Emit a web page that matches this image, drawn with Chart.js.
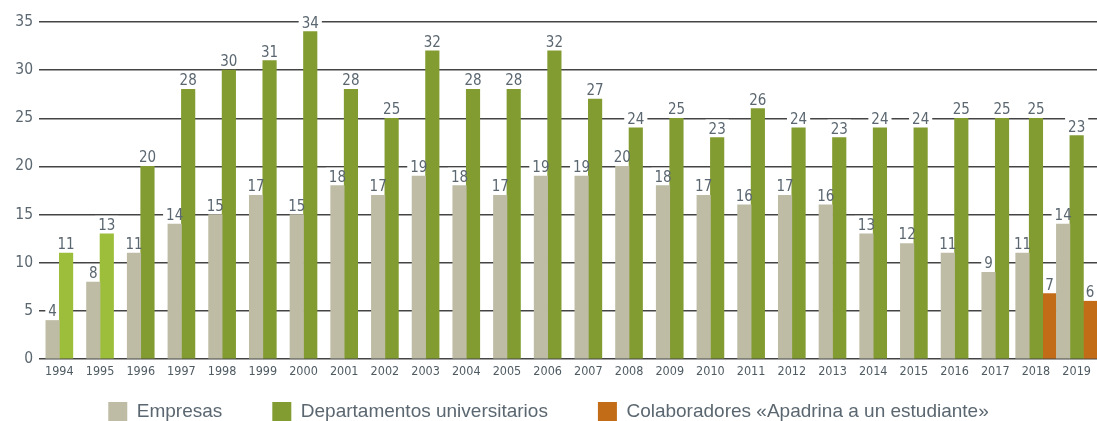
<!DOCTYPE html>
<html>
<head>
<meta charset="utf-8">
<script src="https://cdn.jsdelivr.net/npm/chart.js@4"></script>
<style>
  html, body { margin: 0; padding: 0; background: #fff; overflow: hidden; }
  #wrap { width: 1097px; height: 421px; overflow: hidden; }
  #box { width: 1097px; height: 463px; position: relative; }
</style>
</head>
<body>
<div id="wrap"><div id="box"><canvas id="chart"></canvas></div></div>
<script>
const years = ['1994', '1995', '1996', '1997', '1998', '1999', '2000', '2001', '2002', '2003', '2004', '2005', '2006',
    '2007', '2008', '2009', '2010', '2011', '2012', '2013', '2014', '2015', '2016', '2017', '2018', '2019'];

const empresas = [4, 8, 11, 14, 15, 17, 15, 18, 17, 19, 18, 17, 19, 19, 20, 18, 17, 16, 17, 16, 13, 12, 11, 9, 11, 14];

const departamentos = [11, 13, 20, 28, 30, 31, 34, 28, 25, 32, 28, 28, 32, 27, 24, 25, 23, 26, 24, 23, 24, 24, 25, 25, 25, 23.2];

const colaboradores = [null, null, null, null, null, null, null, null, null, null, null, null, null,
    null, null, null, null, null, null, null, null, null, null, null, 6.8, 6];

const seriesNames = ['Empresas', 'Departamentos universitarios', 'Colaboradores «Apadrina a un estudiante»'];

const GREY = '#bebca5';
const GREEN = '#829c31';
const LIGHT_GREEN = '#9dbe3b';
const ORANGE = '#c36c17';
const seriesColors = [GREY, GREEN, ORANGE];
const TEXT = '#5b6770';
const NARROW = "'Liberation Sans Narrow', 'DejaVu Sans Condensed', sans-serif";
const LABEL_FONT = '15px ' + NARROW;
const LEGEND_SHIFT = 32;

function eachLabel(chart, fn) {
    chart.data.datasets.forEach((ds, i) => {
        const meta = chart.getDatasetMeta(i);
        meta.data.forEach((bar, j) => {
            const v = ds.data[j];
            if (v == null) return;
            fn(bar.x, bar.y, String(Math.round(v)));
        });
    });
}

// value labels sit on a white patch that cuts the grid lines
const valueLabels = {
    id: 'valueLabels',
    beforeDatasetsDraw(chart) {
        const ctx = chart.ctx;
        ctx.save();
        ctx.font = LABEL_FONT;
        ctx.fillStyle = '#fff';
        eachLabel(chart, (x, y, text) => {
            const w = ctx.measureText(text).width;
            ctx.fillRect(x - w / 2 - 3, y - 18, w + 6, 16);
        });
        ctx.restore();
    },
    afterDatasetsDraw(chart) {
        const ctx = chart.ctx;
        ctx.save();
        ctx.font = LABEL_FONT;
        ctx.fillStyle = TEXT;
        ctx.textAlign = 'center';
        ctx.textBaseline = 'alphabetic';
        eachLabel(chart, (x, y, text) => {
            ctx.fillText(text, x, y - 4);
        });
        ctx.restore();
    }
};

// legend padding also spaces the items apart, so pull the legend back up
const legendNudge = {
    id: 'legendNudge',
    afterLayout(chart) {
        chart.legend.top -= LEGEND_SHIFT;
        chart.legend.bottom -= LEGEND_SHIFT;
    }
};

new Chart(document.getElementById('chart'), {
    type: 'bar',
    data: {
        labels: years,
        datasets: [
            { label: seriesNames[0], data: empresas, backgroundColor: GREY },
            {
                label: seriesNames[1], data: departamentos,
                backgroundColor: (c) => (c.dataIndex < 2 ? LIGHT_GREEN : GREEN)
            },
            { label: seriesNames[2], data: colaboradores, backgroundColor: ORANGE }
        ]
    },
    options: {
        responsive: true,
        maintainAspectRatio: false,
        animation: false,
        skipNull: true,
        barThickness: 13.5,
        layout: { padding: { top: 22, right: 0, left: 0, bottom: 0 } },
        plugins: {
            tooltip: { enabled: false },
            legend: {
                position: 'bottom',
                labels: {
                    boxWidth: 19,
                    boxHeight: 19,
                    padding: 50,
                    color: TEXT,
                    font: { family: "'Liberation Sans', Arial, sans-serif", size: 19 },
                    generateLabels(chart) {
                        const items = Chart.defaults.plugins.legend.labels.generateLabels(chart);
                        items.forEach((it, i) => {
                            it.fillStyle = seriesColors[i];
                            it.strokeStyle = seriesColors[i];
                            it.lineWidth = 0;
                        });
                        return items;
                    }
                }
            }
        },
        scales: {
            x: {
                grid: { display: false, drawTicks: false },
                border: { display: false },
                ticks: {
                    color: '#4f5b63',
                    padding: 5,
                    maxRotation: 0,
                    autoSkip: false,
                    font: { family: NARROW, size: 12.5 }
                }
            },
            y: {
                min: 0,
                max: 35,
                afterFit: (scale) => { scale.width = 39; },
                ticks: {
                    stepSize: 5,
                    padding: 6,
                    color: TEXT,
                    font: { family: NARROW, size: 15.5 }
                },
                grid: { color: '#444', lineWidth: 1.5, drawTicks: false },
                border: { display: false }
            }
        }
    },
    plugins: [valueLabels, legendNudge]
});
</script>
</body>
</html>
